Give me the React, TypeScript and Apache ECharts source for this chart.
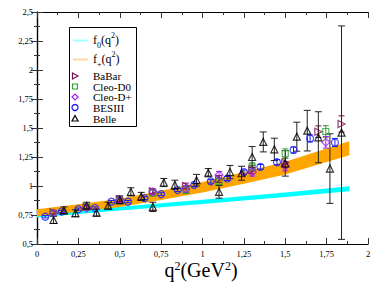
import React, { useEffect, useRef } from "react";
import * as echarts from "echarts";

// ---- data ----
const xTicks = [0, 0.25, 0.5, 0.75, 1, 1.25, 1.5, 1.75, 2];
const yTicks = [0.5, 0.75, 1, 1.25, 1.5, 1.75, 2, 2.25, 2.5];

const f0Q = [0, 0.5, 1.0, 1.5, 1.887];
const f0Lo = [0.728, 0.788, 0.845, 0.905, 0.955];
const f0Hi = [0.762, 0.822, 0.882, 0.945, 0.997];

const fpQ = [0, 0.25, 0.5, 0.75, 1.0, 1.25, 1.5, 1.75, 1.887];
const fpLo = [0.74, 0.778, 0.82, 0.88, 0.945, 1.02, 1.1, 1.207, 1.265];
const fpHi = [0.8, 0.842, 0.89, 0.96, 1.035, 1.12, 1.21, 1.323, 1.385];

const babarQ = [0.1, 0.3, 0.5, 0.7, 0.9, 1.1, 1.3, 1.5, 1.7, 1.84];
const babarF = [0.775, 0.82, 0.885, 0.955, 1.0, 1.06, 1.14, 1.2, 1.468, 1.535];
const babarE = [0.015, 0.015, 0.02, 0.02, 0.025, 0.03, 0.035, 0.04, 0.05, 0.07];

const cleo0Q = [0.1, 0.3, 0.5, 0.7, 0.9, 1.1, 1.3, 1.5, 1.745];
const cleo0F = [0.765, 0.82, 0.875, 0.94, 0.965, 1.04, 1.165, 1.28, 1.47];
const cleo0E = [0.02, 0.02, 0.025, 0.025, 0.03, 0.03, 0.035, 0.04, 0.05];

const cleopQ = [0.1, 0.3, 0.5, 0.7, 0.9, 1.1, 1.3, 1.5, 1.745];
const cleopF = [0.765, 0.81, 0.88, 0.95, 0.975, 1.095, 1.12, 1.17, 1.377];
const cleopE = [0.02, 0.02, 0.025, 0.025, 0.03, 0.03, 0.035, 0.04, 0.05];

const besQ = [0.05, 0.15, 0.25, 0.35, 0.45, 0.55, 0.65, 0.75, 0.85, 0.95, 1.05, 1.15, 1.25, 1.35, 1.45, 1.55, 1.65, 1.8];
const besF = [0.735, 0.78, 0.8, 0.81, 0.865, 0.865, 0.895, 0.93, 0.965, 1.01, 1.04, 1.065, 1.12, 1.165, 1.205, 1.31, 1.41, 1.375];
const besE = [0.01, 0.01, 0.01, 0.01, 0.01, 0.01, 0.012, 0.012, 0.013, 0.014, 0.015, 0.017, 0.018, 0.02, 0.022, 0.025, 0.03, 0.035];

const belleQ = [0.1, 0.163, 0.232, 0.3, 0.36, 0.43, 0.5, 0.567, 0.63, 0.7, 0.766, 0.833, 0.964, 1.035, 1.1, 1.166, 1.236, 1.3, 1.367, 1.434, 1.5, 1.57, 1.633, 1.7, 1.77, 1.84];
const belleF = [0.707, 0.79, 0.765, 0.83, 0.77, 0.83, 0.88, 0.95, 0.91, 0.82, 1.03, 1.01, 1.05, 1.115, 0.95, 1.12, 1.11, 1.25, 1.38, 1.316, 1.195, 1.425, 1.477, 1.42, 1.15, 1.46];
const belleE = [0.03, 0.03, 0.03, 0.03, 0.03, 0.03, 0.035, 0.035, 0.035, 0.04, 0.035, 0.04, 0.05, 0.036, 0.055, 0.057, 0.06, 0.09, 0.086, 0.096, 0.11, 0.125, 0.175, 0.22, 0.3, 0.92];

const SERIF = "Liberation Serif";
const C_F0 = "#00ffff";
const C_FP = "#ffa500";
const C_BABAR = "#7a1050";
const C_CLEO0 = "#2e9e2e";
const C_CLEOP = "#a020f0";
const C_BES = "#1a1aff";
const C_BELLE = "#000000";

const fmt = (v: number) => String(v).replace(".", ",");

function bandSeries(q: number[], lo: number[], hi: number[], color: string, z: number) {
  return {
    type: "custom",
    silent: true,
    z,
    data: [[q[0], lo[0]]],
    encode: { x: 0, y: 1 },
    renderItem: (_p: any, api: any) => {
      const pts: number[][] = [];
      for (let i = 0; i < q.length; i++) pts.push(api.coord([q[i], hi[i]]));
      for (let i = q.length - 1; i >= 0; i--) pts.push(api.coord([q[i], lo[i]]));
      return { type: "polygon", shape: { points: pts }, style: { fill: color, stroke: "none" } };
    },
  };
}

function errSeries(q: number[], f: number[], e: number[], color: string, cap: number) {
  return {
    type: "custom",
    silent: true,
    z: 3,
    data: q.map((x, i) => [x, f[i] - e[i], f[i] + e[i]]),
    encode: { x: 0, y: [1, 2] },
    renderItem: (_p: any, api: any) => {
      const x = api.value(0);
      const a = api.coord([x, api.value(1)]);
      const b = api.coord([x, api.value(2)]);
      const st = { stroke: color, lineWidth: 1 };
      return {
        type: "group",
        children: [
          { type: "line", shape: { x1: a[0], y1: a[1], x2: b[0], y2: b[1] }, style: st },
          { type: "line", shape: { x1: a[0] - cap, y1: a[1], x2: a[0] + cap, y2: a[1] }, style: st },
          { type: "line", shape: { x1: b[0] - cap, y1: b[1], x2: b[0] + cap, y2: b[1] }, style: st },
        ],
      };
    },
  };
}

function markSeries(name: string, q: number[], f: number[], symbol: string, size: number, color: string, rotate = 0) {
  return {
    type: "scatter",
    name,
    z: 4,
    silent: true,
    symbol,
    symbolSize: size,
    symbolRotate: rotate,
    data: q.map((x, i) => [x, f[i]]),
    itemStyle: { color: "rgba(0,0,0,0)", borderColor: color, borderWidth: 1.2 },
  };
}

function legendGraphic() {
  const tx = 93;
  const Z = 20;
  const base = { fontFamily: SERIF, fontSize: 11, fill: "#000" };
  const txt = (y: number, s: string) => ({
    type: "text",
    z: Z,
    x: tx,
    y,
    style: { ...base, text: s, verticalAlign: "middle" },
  });
  const fText = (y: number, sub: string) => ({
    type: "text",
    z: Z,
    x: tx,
    y,
    style: {
      text: `{a|f}{s|${sub}}{a|(q}{p|2}{a|)}`,
      verticalAlign: "middle",
      rich: {
        a: { fontFamily: SERIF, fontSize: 12, fill: "#000", lineHeight: 18 },
        s: { fontFamily: SERIF, fontSize: 8, fill: "#000", verticalAlign: "bottom", lineHeight: 18 },
        p: { fontFamily: SERIF, fontSize: 8, fill: "#000", verticalAlign: "top", lineHeight: 18 },
      },
    },
  });
  const sx = 75;
  return [
    {
      type: "rect",
      z: 10,
      shape: { x: 69.5, y: 27.5, width: 67, height: 99 },
      style: { fill: "#fff", stroke: "#000", lineWidth: 1 },
    },
    { type: "line", z: Z, shape: { x1: 73, y1: 40.5, x2: 88, y2: 40.5 }, style: { stroke: "#a6ffff", lineWidth: 2 } },
    fText(40, "0"),
    { type: "line", z: Z, shape: { x1: 73, y1: 59.5, x2: 88, y2: 59.5 }, style: { stroke: "#ffd9a0", lineWidth: 2 } },
    fText(59, "+"),
    {
      type: "polygon",
      z: Z,
      shape: { points: [[sx - 2.5, 73], [sx + 3, 76], [sx - 2.5, 79]] },
      style: { fill: "none", stroke: C_BABAR, lineWidth: 1.2 },
    },
    txt(76, "BaBar"),
    { type: "rect", z: Z, shape: { x: sx - 2.5, y: 84, width: 5, height: 5 }, style: { fill: "none", stroke: C_CLEO0, lineWidth: 1.2 } },
    txt(86.5, "Cleo-D0"),
    {
      type: "polygon",
      z: Z,
      shape: { points: [[sx, 94], [sx + 3, 97], [sx, 100], [sx - 3, 97]] },
      style: { fill: "none", stroke: C_CLEOP, lineWidth: 1.2 },
    },
    txt(97, "Cleo-D+"),
    { type: "circle", z: Z, shape: { cx: sx, cy: 107.5, r: 3 }, style: { fill: "none", stroke: C_BES, lineWidth: 1.3 } },
    txt(107.5, "BESIII"),
    {
      type: "polygon",
      z: Z,
      shape: { points: [[sx, 115.5], [sx + 3, 121], [sx - 3, 121]] },
      style: { fill: "none", stroke: C_BELLE, lineWidth: 1.2 },
    },
    txt(118.5, "Belle"),
    {
      type: "text",
      z: Z,
      x: 201,
      y: 270,
      style: {
        text: "{a|q}{p|2}{a|(GeV}{p|2}{a|)}",
        align: "center",
        verticalAlign: "middle",
        rich: {
          a: { fontFamily: SERIF, fontSize: 20, fill: "#000", lineHeight: 20 },
          p: { fontFamily: SERIF, fontSize: 12, fill: "#000", verticalAlign: "top", lineHeight: 20 },
        },
      },
    },
  ];
}

export default function App() {
  const ref = useRef<HTMLDivElement>(null);
  useEffect(() => {
    if (!ref.current) return;
    const chart = echarts.init(ref.current, undefined, { renderer: "svg" });
    const axisCommon = {
      axisLine: { show: true, lineStyle: { color: "#000", width: 1.2 } },
      axisTick: { show: true, inside: true, length: 6, lineStyle: { color: "#333" } },
      minorTick: { show: true, splitNumber: 2, length: 3, lineStyle: { color: "#333" } },
      splitLine: { show: false },
      minorSplitLine: { show: false },
    };
    const option: any = {
      animation: false,
      backgroundColor: "#fff",
      grid: { left: 37, right: 13, top: 12, bottom: 41, containLabel: false },
      xAxis: [
        {
          type: "value",
          min: xTicks[0],
          max: xTicks[xTicks.length - 1],
          interval: 0.25,
          position: "bottom",
          ...axisCommon,
          axisLabel: { show: true, margin: 5, fontFamily: SERIF, fontSize: 8.5, color: "#000", formatter: fmt },
        },
        {
          type: "value",
          min: xTicks[0],
          max: xTicks[xTicks.length - 1],
          interval: 0.25,
          position: "top",
          ...axisCommon,
          axisLabel: { show: false },
        },
      ],
      yAxis: [
        {
          type: "value",
          min: yTicks[0],
          max: yTicks[yTicks.length - 1],
          interval: 0.25,
          position: "left",
          ...axisCommon,
          axisLabel: { show: true, margin: 4, fontFamily: SERIF, fontSize: 8.5, color: "#000", formatter: fmt },
        },
        {
          type: "value",
          min: yTicks[0],
          max: yTicks[yTicks.length - 1],
          interval: 0.25,
          position: "right",
          ...axisCommon,
          axisLabel: { show: false },
        },
      ],
      series: [
        bandSeries(f0Q, f0Lo, f0Hi, C_F0, 1),
        bandSeries(fpQ, fpLo, fpHi, C_FP, 2),
        errSeries(babarQ, babarF, babarE, C_BABAR, 3),
        errSeries(cleo0Q, cleo0F, cleo0E, C_CLEO0, 3),
        errSeries(cleopQ, cleopF, cleopE, C_CLEOP, 3),
        errSeries(besQ, besF, besE, C_BES, 3),
        errSeries(belleQ, belleF, belleE, "#222", 3.5),
        markSeries("BaBar", babarQ, babarF, "triangle", 7, C_BABAR, -90),
        markSeries("Cleo-D0", cleo0Q, cleo0F, "rect", 6, C_CLEO0),
        markSeries("Cleo-D+", cleopQ, cleopF, "diamond", 8, C_CLEOP),
        markSeries("BESIII", besQ, besF, "circle", 7, C_BES),
        markSeries("Belle", belleQ, belleF, "triangle", 7, C_BELLE),
      ],
      graphic: legendGraphic(),
    };
    chart.setOption(option);
    return () => chart.dispose();
  }, []);
  return (
    <div
      ref={ref}
      style={{ position: "fixed", left: 0, top: 0, width: 381, height: 285, background: "#fff" }}
    />
  );
}
